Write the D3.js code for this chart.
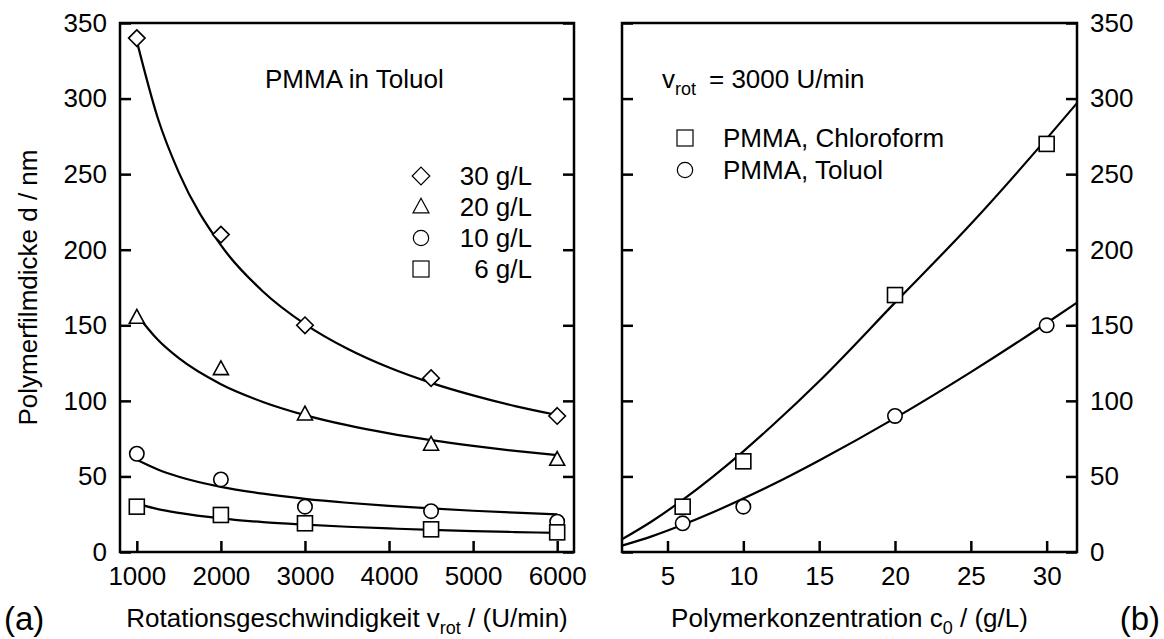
<!DOCTYPE html>
<html><head><meta charset="utf-8">
<script src="https://cdn.jsdelivr.net/npm/d3@7"></script>
<style>
html,body{margin:0;padding:0;background:#fff;}
svg text{font-family:"Liberation Sans",Arial,Helvetica,sans-serif;fill:#000;}
</style></head>
<body>
<svg id="chart" width="1164" height="639"></svg>
<script>
// ---- Data ----
const speeds = [1000, 2000, 3000, 4500, 6000];
const d30 = [340, 210, 150, 115, 90];
const d20 = [155, 121, 91, 71, 61];
const d10 = [65, 48, 30, 27, 20];
const d6  = [30, 24.5, 19, 15, 13];

const fitSpeeds = [1000, 1250, 1500, 2000, 2500, 3000, 3500, 4000, 4500, 5000, 5500, 6000];
const fit30 = [338, 287, 251, 203, 172.4, 150.8, 134.6, 122, 111.9, 103.6, 96.5, 90.6];
const fit20 = [157, 140.4, 128.2, 111, 99.3, 90.6, 83.9, 78.5, 74, 70.2, 66.9, 64.1];
const fit10 = [61, 54.6, 49.8, 43.1, 38.6, 35.2, 32.6, 30.5, 28.8, 27.3, 26, 24.9];
const fit6  = [32, 28.4, 25.9, 22.3, 19.8, 18.1, 16.7, 15.6, 14.6, 13.8, 13.2, 12.6];

const concs = [6, 10, 20, 30];
const chloroform = [30, 60, 170, 270];
const toluol = [19, 30, 90, 150];
const fitConcs = [2, 4, 6, 8, 10, 12, 15, 20, 25, 30, 32];
const fitChloroform = [8.4, 20.5, 34.5, 49.9, 66.6, 84.5, 113, 165, 217, 273.5, 297];
const fitToluol = [4.2, 10.5, 18, 26.3, 35.4, 45, 60.6, 88.6, 119, 151.5, 165];

const yTicks = [0, 50, 100, 150, 200, 250, 300, 350];
const xTicksLeft = [1000, 2000, 3000, 4000, 5000, 6000];
const xTicksRight = [5, 10, 15, 20, 25, 30];
const legendLeft = ["30 g/L", "20 g/L", "10 g/L", "6 g/L"];
const legendRight = ["PMMA, Chloroform", "PMMA, Toluol"];

// ---- Layout ----
const svg = d3.select("#chart");
const yTop = 23, yBot = 552;
const L = {x0: 120, x1: 574};
const R = {x0: 622, x1: 1077};
const y = d3.scaleLinear().domain([0, 350]).range([yBot, yTop]);
const xL = d3.scaleLinear().domain([800, 6200]).range([L.x0, L.x1]);
const xR = d3.scaleLinear().domain([2, 32]).range([R.x0, R.x1]);
const FS = 26, SUB = 18;

function styleAxis(g, showText) {
  g.select(".domain").remove();
  g.selectAll(".tick line").attr("stroke", "#000").attr("stroke-width", 2.5);
  g.selectAll(".tick text").attr("font-size", FS).attr("font-family", '"Liberation Sans",Arial,sans-serif').attr("fill", "#000");
  if (!showText) g.selectAll(".tick text").remove();
}

// Left panel axes
svg.append("g").attr("transform", `translate(0,${yBot})`)
  .call(d3.axisBottom(xL).tickValues(xTicksLeft).tickSizeInner(-11).tickSizeOuter(0).tickPadding(15).tickFormat(d3.format("d")))
  .call(g => styleAxis(g, true));
svg.append("g").attr("transform", `translate(${L.x0},0)`)
  .call(d3.axisLeft(y).tickValues(yTicks).tickSizeInner(-11).tickSizeOuter(0).tickPadding(13))
  .call(g => styleAxis(g, true));
svg.append("g").attr("transform", `translate(${L.x1},0)`)
  .call(d3.axisRight(y).tickValues(yTicks).tickSizeInner(-11).tickSizeOuter(0))
  .call(g => styleAxis(g, false));

// Right panel axes
svg.append("g").attr("transform", `translate(0,${yBot})`)
  .call(d3.axisBottom(xR).tickValues(xTicksRight).tickSizeInner(-11).tickSizeOuter(0).tickPadding(15))
  .call(g => styleAxis(g, true));
svg.append("g").attr("transform", `translate(${R.x0},0)`)
  .call(d3.axisLeft(y).tickValues(yTicks).tickSizeInner(-11).tickSizeOuter(0))
  .call(g => styleAxis(g, false));
svg.append("g").attr("transform", `translate(${R.x1},0)`)
  .call(d3.axisRight(y).tickValues(yTicks).tickSizeInner(-11).tickSizeOuter(0).tickPadding(13))
  .call(g => styleAxis(g, true));

// Frames
[L, R].forEach(p => {
  svg.append("rect").attr("x", p.x0).attr("y", yTop).attr("width", p.x1 - p.x0).attr("height", yBot - yTop)
    .attr("fill", "none").attr("stroke", "#000").attr("stroke-width", 2.5);
});

// Fit curves
function curve(xs, ys, xsScale) {
  const line = d3.line().x((d, i) => xsScale(xs[i])).y(d => y(d)).curve(d3.curveMonotoneX);
  svg.append("path").attr("d", line(ys)).attr("fill", "none").attr("stroke", "#000").attr("stroke-width", 2.2);
}
[fit30, fit20, fit10, fit6].forEach(f => curve(fitSpeeds, f, xL));
curve(fitConcs, fitChloroform, xR);
curve(fitConcs, fitToluol, xR);

// Marker shapes
function marker(g, shape, cx, cy, s, sw) {
  let el;
  if (shape === "diamond") {
    const h = s * 0.55;
    el = g.append("path").attr("d", `M${cx},${cy - h}L${cx + h},${cy}L${cx},${cy + h}L${cx - h},${cy}Z`);
  } else if (shape === "triangle") {
    const w = s * 0.5, hh = s * 0.92;
    el = g.append("path").attr("d", `M${cx},${cy - hh * 0.6}L${cx + w},${cy + hh * 0.4}L${cx - w},${cy + hh * 0.4}Z`);
  } else if (shape === "circle") {
    el = g.append("circle").attr("cx", cx).attr("cy", cy).attr("r", s * 0.48);
  } else {
    const h = s * 0.5;
    el = g.append("rect").attr("x", cx - h).attr("y", cy - h).attr("width", 2 * h).attr("height", 2 * h);
  }
  el.attr("fill", "#fff").attr("stroke", "#000").attr("stroke-width", sw);
}
const mg = svg.append("g");
const leftSeries = [[d30, "diamond"], [d20, "triangle"], [d10, "circle"], [d6, "square"]];
leftSeries.forEach(([vals, shape]) => {
  vals.forEach((v, i) => marker(mg, shape, xL(speeds[i]), y(v), 15, 1.6));
});
chloroform.forEach((v, i) => marker(mg, "square", xR(concs[i]), y(v), 15, 1.6));
toluol.forEach((v, i) => marker(mg, "circle", xR(concs[i]), y(v), 15, 1.6));

// Left legend
const legShapes = ["diamond", "triangle", "circle", "square"];
legendLeft.forEach((t, i) => {
  const cy = 176 + i * 31;
  marker(svg, legShapes[i], 421, cy, 16, 1.2);
  svg.append("text").attr("x", 532).attr("y", cy + 8.5).attr("text-anchor", "end").attr("font-size", FS).text(t);
});
svg.append("text").attr("x", 265).attr("y", 88).attr("font-size", FS).text("PMMA in Toluol");

// Right legend
const rShapes = ["square", "circle"];
legendRight.forEach((t, i) => {
  const cy = 138 + i * 32;
  marker(svg, rShapes[i], 685, cy, 16, 1.2);
  svg.append("text").attr("x", 723).attr("y", cy + 8.5).attr("font-size", FS).text(t);
});
const vt = svg.append("text").attr("x", 662).attr("y", 88).attr("font-size", FS);
vt.append("tspan").text("v");
vt.append("tspan").attr("font-size", SUB).attr("dy", 7).text("rot");
svg.append("text").attr("x", 709).attr("y", 88).attr("font-size", FS).text("= 3000 U/min");

// Axis titles
const xtL = svg.append("text").attr("x", (L.x0 + L.x1) / 2).attr("y", 627).attr("text-anchor", "middle").attr("font-size", FS);
xtL.append("tspan").text("Rotationsgeschwindigkeit v");
xtL.append("tspan").attr("font-size", SUB).attr("dy", 7).text("rot");
xtL.append("tspan").attr("dy", -7).text(" / (U/min)");

const xtR = svg.append("text").attr("x", (R.x0 + R.x1) / 2).attr("y", 627).attr("text-anchor", "middle").attr("font-size", FS);
xtR.append("tspan").text("Polymerkonzentration c");
xtR.append("tspan").attr("font-size", SUB).attr("dy", 7).text("0");
xtR.append("tspan").attr("dy", -7).text(" / (g/L)");

svg.append("text").attr("transform", `translate(37,${(yTop + yBot) / 2}) rotate(-90)`)
  .attr("text-anchor", "middle").attr("font-size", FS).text("Polymerfilmdicke d / nm");

svg.append("text").attr("x", 4).attr("y", 630).attr("font-size", 33).text("(a)");
svg.append("text").attr("x", 1160).attr("y", 630).attr("text-anchor", "end").attr("font-size", 33).text("(b)");
</script>
</body></html>
